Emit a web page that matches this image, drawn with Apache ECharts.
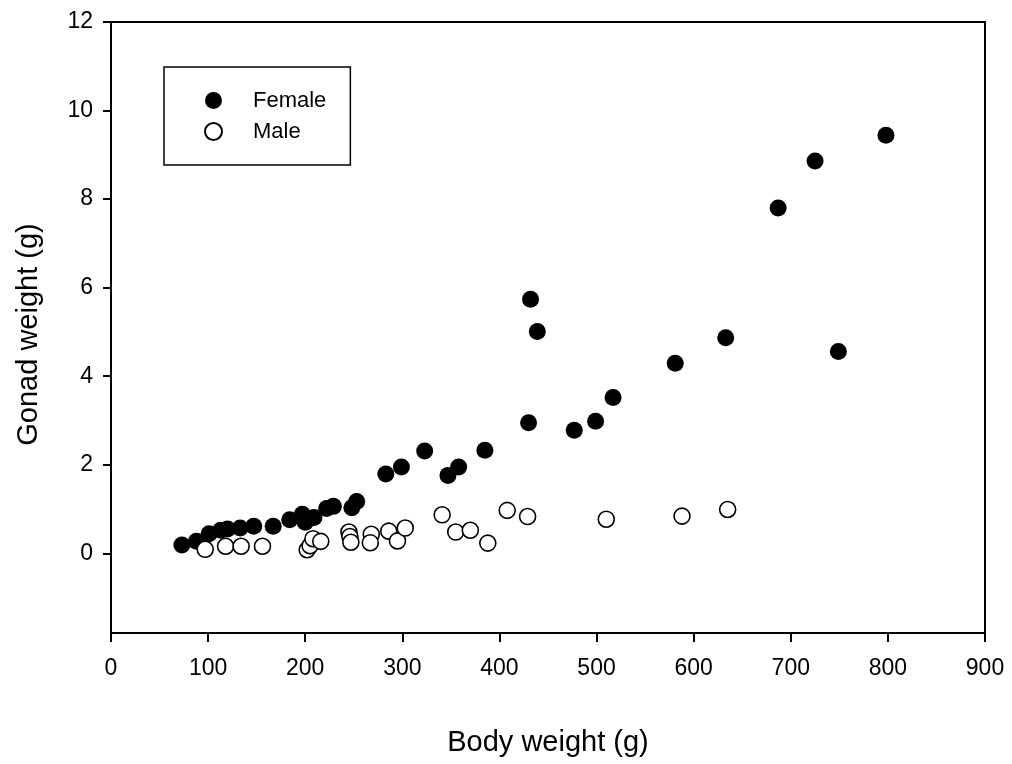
<!DOCTYPE html>
<html>
<head>
<meta charset="utf-8">
<script src="https://cdn.jsdelivr.net/npm/echarts@6/dist/echarts.min.js"></script>
<style>
  html, body { margin: 0; padding: 0; background: #fff; }
  #chart { width: 1012px; height: 764px; }
</style>
</head>
<body>
<div id="chart"></div>
<script>
// Body weight (g) vs gonad weight (g), by sex
const femaleBody = [73, 88, 101, 113, 120, 133, 147, 167, 184, 197, 200, 209, 222, 229, 248, 253,
  283, 299, 323, 347, 358, 385, 430, 432, 439, 477, 499, 517, 581, 633, 687, 725, 749, 798];
const femaleGonad = [0.19, 0.27, 0.44, 0.52, 0.55, 0.57, 0.61, 0.61, 0.76, 0.88, 0.70, 0.81, 1.01, 1.06, 1.03, 1.17,
  1.79, 1.95, 2.31, 1.76, 1.95, 2.33, 2.95, 5.74, 5.01, 2.78, 2.98, 3.52, 4.29, 4.87, 7.80, 8.86, 4.56, 9.44];

const maleBody = [97, 118, 134, 156, 202, 205, 208, 216, 245, 246, 247, 268, 267, 286, 295, 303,
  341, 355, 370, 388, 408, 429, 510, 588, 635];
const maleGonad = [0.09, 0.16, 0.16, 0.16, 0.08, 0.17, 0.33, 0.27, 0.48, 0.38, 0.25, 0.43, 0.24, 0.50, 0.28, 0.57,
  0.87, 0.48, 0.52, 0.23, 0.97, 0.83, 0.77, 0.84, 0.99];

const yTickValues = [0, 2, 4, 6, 8, 10, 12];

const pairs = (xs, ys) => xs.map((x, i) => [x, ys[i]]);

const FONT = '"Liberation Sans", Arial, Helvetica, sans-serif';
const chart = echarts.init(document.getElementById('chart'), null, { renderer: 'canvas' });

chart.setOption({
  animation: false,
  backgroundColor: '#fff',
  textStyle: { fontFamily: FONT, color: '#000' },
  grid: {
    left: 111, right: 27, top: 22, bottom: 131,
    show: true, borderColor: '#000', borderWidth: 2, backgroundColor: 'transparent'
  },
  legend: {
    orient: 'vertical',
    left: 164, top: 67,
    padding: [22, 24, 22, 40],
    itemWidth: 17, itemHeight: 17, itemGap: 8,
    borderColor: '#000', borderWidth: 1.5, borderRadius: 0,
    backgroundColor: '#fff',
    textStyle: { fontFamily: FONT, fontSize: 22, color: '#000', lineHeight: 23, padding: [0, 0, 0, 26] },
    data: [
      { name: 'Female', icon: 'circle' },
      { name: 'Male', icon: 'circle' }
    ]
  },
  xAxis: {
    type: 'value', min: 0, max: 900, interval: 100,
    name: 'Body weight (g)', nameLocation: 'middle', nameGap: 95,
    nameTextStyle: { fontFamily: FONT, fontSize: 29, color: '#000' },
    axisLine: { show: true, onZero: false, lineStyle: { color: '#000', width: 2 } },
    axisTick: { show: true, inside: false, length: 9, lineStyle: { color: '#000', width: 2 } },
    axisLabel: { fontFamily: FONT, fontSize: 23, color: '#000', margin: 24 },
    splitLine: { show: false }
  },
  yAxis: {
    type: 'value', min: -1.8, max: 12,
    name: 'Gonad weight (g)', nameLocation: 'middle', nameGap: 68, nameRotate: 90,
    nameTextStyle: { fontFamily: FONT, fontSize: 29, color: '#000', padding: [0, 14, 0, 0] },
    axisLine: { show: true, onZero: false, lineStyle: { color: '#000', width: 2 } },
    axisTick: { show: true, inside: false, length: 8, customValues: yTickValues, lineStyle: { color: '#000', width: 2 } },
    axisLabel: { fontFamily: FONT, fontSize: 23, color: '#000', margin: 18, customValues: yTickValues },
    splitLine: { show: false }
  },
  series: [
    {
      name: 'Female', type: 'scatter', symbol: 'circle', symbolSize: 17,
      itemStyle: { color: '#000', borderColor: '#000', borderWidth: 0, opacity: 1 },
      data: pairs(femaleBody, femaleGonad)
    },
    {
      name: 'Male', type: 'scatter', symbol: 'circle', symbolSize: 16,
      itemStyle: { color: '#fff', borderColor: '#000', borderWidth: 1.6, opacity: 1 },
      data: pairs(maleBody, maleGonad)
    }
  ]
});
</script>
</body>
</html>
